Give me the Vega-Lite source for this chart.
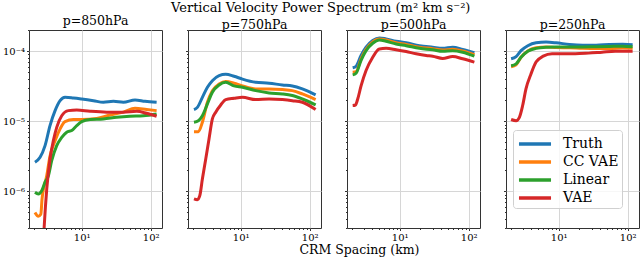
{
  "$schema": "https://vega.github.io/schema/vega-lite/v6.json",
  "padding": {"left": 1, "top": 2, "right": 1, "bottom": 0},
  "background": "white",
  "bounds": "flush",
  "title": {"text": "Vertical Velocity Power Spectrum (m² km s⁻²)", "font": "DejaVu Serif", "fontSize": 13, "fontWeight": "normal", "anchor": "middle", "offset": -1, "color": "black"},
  "spacing": 26,
  "resolve": {"scale": {"color": "independent"}, "legend": {"color": "independent"}},
  "datasets": {
    "d": [
      {"p": 850, "m": "Truth", "x": 2.1, "y": 2.6e-6}, {"p": 850, "m": "Truth", "x": 2.49, "y": 3.06e-6}, {"p": 850, "m": "Truth", "x": 2.94, "y": 4.5e-6}, {"p": 850, "m": "Truth", "x": 3.47, "y": 8.7e-6}, {"p": 850, "m": "Truth", "x": 4.11, "y": 1.42e-5}, {"p": 850, "m": "Truth", "x": 4.86, "y": 1.97e-5}, {"p": 850, "m": "Truth", "x": 5.73, "y": 2.2e-5}, {"p": 850, "m": "Truth", "x": 7.57, "y": 2.15e-5}, {"p": 850, "m": "Truth", "x": 10, "y": 2.08e-5}, {"p": 850, "m": "Truth", "x": 14.8, "y": 1.97e-5}, {"p": 850, "m": "Truth", "x": 20.6, "y": 1.87e-5}, {"p": 850, "m": "Truth", "x": 28.8, "y": 1.93e-5}, {"p": 850, "m": "Truth", "x": 40.2, "y": 1.87e-5}, {"p": 850, "m": "Truth", "x": 59.3, "y": 2.02e-5}, {"p": 850, "m": "Truth", "x": 82.8, "y": 1.93e-5}, {"p": 850, "m": "Truth", "x": 122, "y": 1.87e-5},
      {"p": 850, "m": "CC VAE", "x": 2.1, "y": 5.0e-7}, {"p": 850, "m": "CC VAE", "x": 2.35, "y": 4.4e-7}, {"p": 850, "m": "CC VAE", "x": 2.55, "y": 4.7e-7}, {"p": 850, "m": "CC VAE", "x": 2.66, "y": 7.8e-7}, {"p": 850, "m": "CC VAE", "x": 3.11, "y": 1.67e-6}, {"p": 850, "m": "CC VAE", "x": 3.47, "y": 3.2e-6}, {"p": 850, "m": "CC VAE", "x": 4.11, "y": 5.3e-6}, {"p": 850, "m": "CC VAE", "x": 4.86, "y": 7.8e-6}, {"p": 850, "m": "CC VAE", "x": 5.73, "y": 9.9e-6}, {"p": 850, "m": "CC VAE", "x": 7.57, "y": 1.06e-5}, {"p": 850, "m": "CC VAE", "x": 10, "y": 1.06e-5}, {"p": 850, "m": "CC VAE", "x": 16.5, "y": 1.1e-5}, {"p": 850, "m": "CC VAE", "x": 25.8, "y": 1.23e-5}, {"p": 850, "m": "CC VAE", "x": 40.2, "y": 1.35e-5}, {"p": 850, "m": "CC VAE", "x": 59.3, "y": 1.53e-5}, {"p": 850, "m": "CC VAE", "x": 87.5, "y": 1.47e-5}, {"p": 850, "m": "CC VAE", "x": 122, "y": 1.42e-5},
      {"p": 850, "m": "Linear", "x": 2.1, "y": 9.7e-7}, {"p": 850, "m": "Linear", "x": 2.35, "y": 9.2e-7}, {"p": 850, "m": "Linear", "x": 2.63, "y": 1.02e-6}, {"p": 850, "m": "Linear", "x": 2.94, "y": 1.35e-6}, {"p": 850, "m": "Linear", "x": 3.29, "y": 1.67e-6}, {"p": 850, "m": "Linear", "x": 3.67, "y": 2.74e-6}, {"p": 850, "m": "Linear", "x": 4.34, "y": 4.5e-6}, {"p": 850, "m": "Linear", "x": 5.13, "y": 5.9e-6}, {"p": 850, "m": "Linear", "x": 6.06, "y": 7.0e-6}, {"p": 850, "m": "Linear", "x": 7.16, "y": 7.4e-6}, {"p": 850, "m": "Linear", "x": 8.47, "y": 8.7e-6}, {"p": 850, "m": "Linear", "x": 10, "y": 9.9e-6}, {"p": 850, "m": "Linear", "x": 13.2, "y": 1.06e-5}, {"p": 850, "m": "Linear", "x": 20.6, "y": 1.08e-5}, {"p": 850, "m": "Linear", "x": 32.1, "y": 1.14e-5}, {"p": 850, "m": "Linear", "x": 50.1, "y": 1.18e-5}, {"p": 850, "m": "Linear", "x": 78.3, "y": 1.2e-5}, {"p": 850, "m": "Linear", "x": 122, "y": 1.27e-5},
      {"p": 850, "m": "VAE", "x": 2.75, "y": 1.5e-7}, {"p": 850, "m": "VAE", "x": 2.86, "y": 3.2e-7}, {"p": 850, "m": "VAE", "x": 3.11, "y": 1.08e-6}, {"p": 850, "m": "VAE", "x": 3.47, "y": 2.9e-6}, {"p": 850, "m": "VAE", "x": 3.88, "y": 5.3e-6}, {"p": 850, "m": "VAE", "x": 4.34, "y": 8.2e-6}, {"p": 850, "m": "VAE", "x": 5.13, "y": 1.2e-5}, {"p": 850, "m": "VAE", "x": 6.41, "y": 1.42e-5}, {"p": 850, "m": "VAE", "x": 8.47, "y": 1.45e-5}, {"p": 850, "m": "VAE", "x": 13.2, "y": 1.39e-5}, {"p": 850, "m": "VAE", "x": 23, "y": 1.35e-5}, {"p": 850, "m": "VAE", "x": 40, "y": 1.35e-5}, {"p": 850, "m": "VAE", "x": 62.7, "y": 1.39e-5}, {"p": 850, "m": "VAE", "x": 87.5, "y": 1.3e-5}, {"p": 850, "m": "VAE", "x": 122, "y": 1.18e-5},

      {"p": 750, "m": "Truth", "x": 2.1, "y": 1.47e-5}, {"p": 750, "m": "Truth", "x": 2.35, "y": 1.58e-5}, {"p": 750, "m": "Truth", "x": 2.78, "y": 2.2e-5}, {"p": 750, "m": "Truth", "x": 3.29, "y": 3.06e-5}, {"p": 750, "m": "Truth", "x": 3.88, "y": 3.8e-5}, {"p": 750, "m": "Truth", "x": 4.86, "y": 4.5e-5}, {"p": 750, "m": "Truth", "x": 6.06, "y": 4.7e-5}, {"p": 750, "m": "Truth", "x": 8.0, "y": 4.4e-5}, {"p": 750, "m": "Truth", "x": 10.6, "y": 4.0e-5}, {"p": 750, "m": "Truth", "x": 16.5, "y": 3.6e-5}, {"p": 750, "m": "Truth", "x": 25.8, "y": 3.5e-5}, {"p": 750, "m": "Truth", "x": 40.2, "y": 3.3e-5}, {"p": 750, "m": "Truth", "x": 56.1, "y": 3.2e-5}, {"p": 750, "m": "Truth", "x": 78.3, "y": 2.9e-5}, {"p": 750, "m": "Truth", "x": 122, "y": 2.38e-5},
      {"p": 750, "m": "CC VAE", "x": 2.1, "y": 7.1e-6}, {"p": 750, "m": "CC VAE", "x": 2.43, "y": 7.1e-6}, {"p": 750, "m": "CC VAE", "x": 2.78, "y": 9.7e-6}, {"p": 750, "m": "CC VAE", "x": 3.29, "y": 1.87e-5}, {"p": 750, "m": "CC VAE", "x": 3.88, "y": 2.74e-5}, {"p": 750, "m": "CC VAE", "x": 4.86, "y": 3.4e-5}, {"p": 750, "m": "CC VAE", "x": 6.06, "y": 3.7e-5}, {"p": 750, "m": "CC VAE", "x": 8.0, "y": 3.5e-5}, {"p": 750, "m": "CC VAE", "x": 10.6, "y": 3.2e-5}, {"p": 750, "m": "CC VAE", "x": 16.5, "y": 2.9e-5}, {"p": 750, "m": "CC VAE", "x": 25.8, "y": 2.9e-5}, {"p": 750, "m": "CC VAE", "x": 40.2, "y": 2.84e-5}, {"p": 750, "m": "CC VAE", "x": 56.1, "y": 2.74e-5}, {"p": 750, "m": "CC VAE", "x": 78.3, "y": 2.46e-5}, {"p": 750, "m": "CC VAE", "x": 122, "y": 2.04e-5},
      {"p": 750, "m": "Linear", "x": 2.1, "y": 9.7e-6}, {"p": 750, "m": "Linear", "x": 2.43, "y": 1.02e-5}, {"p": 750, "m": "Linear", "x": 2.78, "y": 1.2e-5}, {"p": 750, "m": "Linear", "x": 3.29, "y": 1.77e-5}, {"p": 750, "m": "Linear", "x": 3.88, "y": 2.6e-5}, {"p": 750, "m": "Linear", "x": 4.86, "y": 3.3e-5}, {"p": 750, "m": "Linear", "x": 6.06, "y": 3.6e-5}, {"p": 750, "m": "Linear", "x": 8.0, "y": 3.2e-5}, {"p": 750, "m": "Linear", "x": 10.6, "y": 3.06e-5}, {"p": 750, "m": "Linear", "x": 16.5, "y": 2.74e-5}, {"p": 750, "m": "Linear", "x": 25.8, "y": 2.54e-5}, {"p": 750, "m": "Linear", "x": 40.2, "y": 2.46e-5}, {"p": 750, "m": "Linear", "x": 56.1, "y": 2.33e-5}, {"p": 750, "m": "Linear", "x": 78.3, "y": 2.08e-5}, {"p": 750, "m": "Linear", "x": 122, "y": 1.71e-5},
      {"p": 750, "m": "VAE", "x": 2.1, "y": 7.8e-7}, {"p": 750, "m": "VAE", "x": 2.35, "y": 7.6e-7}, {"p": 750, "m": "VAE", "x": 2.55, "y": 8.7e-7}, {"p": 750, "m": "VAE", "x": 2.78, "y": 1.5e-6}, {"p": 750, "m": "VAE", "x": 3.11, "y": 2.9e-6}, {"p": 750, "m": "VAE", "x": 3.47, "y": 5.6e-6}, {"p": 750, "m": "VAE", "x": 3.88, "y": 1.08e-5}, {"p": 750, "m": "VAE", "x": 4.34, "y": 1.35e-5}, {"p": 750, "m": "VAE", "x": 5.13, "y": 1.71e-5}, {"p": 750, "m": "VAE", "x": 6.06, "y": 2.04e-5}, {"p": 750, "m": "VAE", "x": 8.0, "y": 2.13e-5}, {"p": 750, "m": "VAE", "x": 10.6, "y": 2.2e-5}, {"p": 750, "m": "VAE", "x": 16.5, "y": 2.04e-5}, {"p": 750, "m": "VAE", "x": 25.8, "y": 2.08e-5}, {"p": 750, "m": "VAE", "x": 40.2, "y": 2.04e-5}, {"p": 750, "m": "VAE", "x": 56.1, "y": 1.97e-5}, {"p": 750, "m": "VAE", "x": 78.3, "y": 1.87e-5}, {"p": 750, "m": "VAE", "x": 122, "y": 1.47e-5},

      {"p": 500, "m": "Truth", "x": 2.08, "y": 5.8e-5}, {"p": 500, "m": "Truth", "x": 2.33, "y": 6.1e-5}, {"p": 500, "m": "Truth", "x": 2.75, "y": 8.7e-5}, {"p": 500, "m": "Truth", "x": 3.25, "y": 1.14e-4}, {"p": 500, "m": "Truth", "x": 4.06, "y": 1.42e-4}, {"p": 500, "m": "Truth", "x": 5.07, "y": 1.55e-4}, {"p": 500, "m": "Truth", "x": 6.34, "y": 1.5e-4}, {"p": 500, "m": "Truth", "x": 8.85, "y": 1.39e-4}, {"p": 500, "m": "Truth", "x": 12.4, "y": 1.32e-4}, {"p": 500, "m": "Truth", "x": 19.3, "y": 1.2e-4}, {"p": 500, "m": "Truth", "x": 30.1, "y": 1.14e-4}, {"p": 500, "m": "Truth", "x": 42, "y": 1.1e-4}, {"p": 500, "m": "Truth", "x": 58.6, "y": 1.14e-4}, {"p": 500, "m": "Truth", "x": 81.8, "y": 1.06e-4}, {"p": 500, "m": "Truth", "x": 121, "y": 9.5e-5},
      {"p": 500, "m": "CC VAE", "x": 2.08, "y": 5.0e-5}, {"p": 500, "m": "CC VAE", "x": 2.33, "y": 5.1e-5}, {"p": 500, "m": "CC VAE", "x": 2.75, "y": 7.8e-5}, {"p": 500, "m": "CC VAE", "x": 3.25, "y": 1.07e-4}, {"p": 500, "m": "CC VAE", "x": 4.06, "y": 1.36e-4}, {"p": 500, "m": "CC VAE", "x": 5.07, "y": 1.5e-4}, {"p": 500, "m": "CC VAE", "x": 6.34, "y": 1.45e-4}, {"p": 500, "m": "CC VAE", "x": 8.85, "y": 1.32e-4}, {"p": 500, "m": "CC VAE", "x": 12.4, "y": 1.25e-4}, {"p": 500, "m": "CC VAE", "x": 19.3, "y": 1.14e-4}, {"p": 500, "m": "CC VAE", "x": 30.1, "y": 1.09e-4}, {"p": 500, "m": "CC VAE", "x": 42, "y": 1.04e-4}, {"p": 500, "m": "CC VAE", "x": 58.6, "y": 1.07e-4}, {"p": 500, "m": "CC VAE", "x": 81.8, "y": 1.01e-4}, {"p": 500, "m": "CC VAE", "x": 121, "y": 8.9e-5},
      {"p": 500, "m": "Linear", "x": 2.08, "y": 4.6e-5}, {"p": 500, "m": "Linear", "x": 2.33, "y": 4.85e-5}, {"p": 500, "m": "Linear", "x": 2.75, "y": 7.4e-5}, {"p": 500, "m": "Linear", "x": 3.25, "y": 1.02e-4}, {"p": 500, "m": "Linear", "x": 4.06, "y": 1.3e-4}, {"p": 500, "m": "Linear", "x": 5.07, "y": 1.45e-4}, {"p": 500, "m": "Linear", "x": 6.34, "y": 1.39e-4}, {"p": 500, "m": "Linear", "x": 8.85, "y": 1.27e-4}, {"p": 500, "m": "Linear", "x": 12.4, "y": 1.2e-4}, {"p": 500, "m": "Linear", "x": 19.3, "y": 1.1e-4}, {"p": 500, "m": "Linear", "x": 30.1, "y": 1.05e-4}, {"p": 500, "m": "Linear", "x": 42, "y": 1.0e-4}, {"p": 500, "m": "Linear", "x": 58.6, "y": 1.02e-4}, {"p": 500, "m": "Linear", "x": 81.8, "y": 9.7e-5}, {"p": 500, "m": "Linear", "x": 121, "y": 8.5e-5},
      {"p": 500, "m": "VAE", "x": 2.08, "y": 1.68e-5}, {"p": 500, "m": "VAE", "x": 2.28, "y": 1.71e-5}, {"p": 500, "m": "VAE", "x": 2.46, "y": 2.08e-5}, {"p": 500, "m": "VAE", "x": 2.75, "y": 3.2e-5}, {"p": 500, "m": "VAE", "x": 3.25, "y": 5.3e-5}, {"p": 500, "m": "VAE", "x": 4.06, "y": 8.2e-5}, {"p": 500, "m": "VAE", "x": 5.07, "y": 1.08e-4}, {"p": 500, "m": "VAE", "x": 6.34, "y": 1.1e-4}, {"p": 500, "m": "VAE", "x": 8.85, "y": 1.05e-4}, {"p": 500, "m": "VAE", "x": 12.4, "y": 9.9e-5}, {"p": 500, "m": "VAE", "x": 17.3, "y": 9.2e-5}, {"p": 500, "m": "VAE", "x": 24.2, "y": 8.7e-5}, {"p": 500, "m": "VAE", "x": 30.1, "y": 8.5e-5}, {"p": 500, "m": "VAE", "x": 42, "y": 7.9e-5}, {"p": 500, "m": "VAE", "x": 58.6, "y": 8.4e-5}, {"p": 500, "m": "VAE", "x": 81.8, "y": 7.8e-5}, {"p": 500, "m": "VAE", "x": 121, "y": 7.0e-5},

      {"p": 250, "m": "Truth", "x": 2.04, "y": 7.8e-5}, {"p": 250, "m": "Truth", "x": 2.41, "y": 8.4e-5}, {"p": 250, "m": "Truth", "x": 2.84, "y": 1.02e-4}, {"p": 250, "m": "Truth", "x": 3.56, "y": 1.2e-4}, {"p": 250, "m": "Truth", "x": 4.69, "y": 1.32e-4}, {"p": 250, "m": "Truth", "x": 6.55, "y": 1.35e-4}, {"p": 250, "m": "Truth", "x": 9.15, "y": 1.32e-4}, {"p": 250, "m": "Truth", "x": 14.3, "y": 1.25e-4}, {"p": 250, "m": "Truth", "x": 22.3, "y": 1.22e-4}, {"p": 250, "m": "Truth", "x": 34.8, "y": 1.22e-4}, {"p": 250, "m": "Truth", "x": 54.2, "y": 1.25e-4}, {"p": 250, "m": "Truth", "x": 84.7, "y": 1.26e-4}, {"p": 250, "m": "Truth", "x": 118, "y": 1.24e-4},
      {"p": 250, "m": "CC VAE", "x": 2.04, "y": 6.0e-5}, {"p": 250, "m": "CC VAE", "x": 2.41, "y": 6.4e-5}, {"p": 250, "m": "CC VAE", "x": 2.84, "y": 8.2e-5}, {"p": 250, "m": "CC VAE", "x": 3.56, "y": 1.01e-4}, {"p": 250, "m": "CC VAE", "x": 4.69, "y": 1.12e-4}, {"p": 250, "m": "CC VAE", "x": 6.55, "y": 1.15e-4}, {"p": 250, "m": "CC VAE", "x": 9.15, "y": 1.13e-4}, {"p": 250, "m": "CC VAE", "x": 14.3, "y": 1.12e-4}, {"p": 250, "m": "CC VAE", "x": 22.3, "y": 1.1e-4}, {"p": 250, "m": "CC VAE", "x": 34.8, "y": 1.09e-4}, {"p": 250, "m": "CC VAE", "x": 54.2, "y": 1.09e-4}, {"p": 250, "m": "CC VAE", "x": 84.7, "y": 1.11e-4}, {"p": 250, "m": "CC VAE", "x": 118, "y": 1.1e-4},
      {"p": 250, "m": "Linear", "x": 2.04, "y": 6.2e-5}, {"p": 250, "m": "Linear", "x": 2.41, "y": 6.6e-5}, {"p": 250, "m": "Linear", "x": 2.84, "y": 8.2e-5}, {"p": 250, "m": "Linear", "x": 3.56, "y": 1.0e-4}, {"p": 250, "m": "Linear", "x": 4.69, "y": 1.1e-4}, {"p": 250, "m": "Linear", "x": 6.55, "y": 1.14e-4}, {"p": 250, "m": "Linear", "x": 9.15, "y": 1.15e-4}, {"p": 250, "m": "Linear", "x": 14.3, "y": 1.15e-4}, {"p": 250, "m": "Linear", "x": 22.3, "y": 1.15e-4}, {"p": 250, "m": "Linear", "x": 34.8, "y": 1.16e-4}, {"p": 250, "m": "Linear", "x": 54.2, "y": 1.17e-4}, {"p": 250, "m": "Linear", "x": 84.7, "y": 1.18e-4}, {"p": 250, "m": "Linear", "x": 118, "y": 1.16e-4},
      {"p": 250, "m": "VAE", "x": 2.04, "y": 1.06e-5}, {"p": 250, "m": "VAE", "x": 2.41, "y": 1.02e-5}, {"p": 250, "m": "VAE", "x": 2.69, "y": 1.14e-5}, {"p": 250, "m": "VAE", "x": 3.0, "y": 1.68e-5}, {"p": 250, "m": "VAE", "x": 3.35, "y": 2.9e-5}, {"p": 250, "m": "VAE", "x": 3.96, "y": 4.74e-5}, {"p": 250, "m": "VAE", "x": 4.69, "y": 7.0e-5}, {"p": 250, "m": "VAE", "x": 5.96, "y": 8.5e-5}, {"p": 250, "m": "VAE", "x": 8.0, "y": 9.2e-5}, {"p": 250, "m": "VAE", "x": 11.1, "y": 9.2e-5}, {"p": 250, "m": "VAE", "x": 17.4, "y": 9.2e-5}, {"p": 250, "m": "VAE", "x": 27.1, "y": 9.4e-5}, {"p": 250, "m": "VAE", "x": 42.4, "y": 9.7e-5}, {"p": 250, "m": "VAE", "x": 66, "y": 1.0e-4}, {"p": 250, "m": "VAE", "x": 118, "y": 1.0e-4}
    ]
  },
  "hconcat": [
    {
      "title": "p=850hPa",
      "width": 133, "height": 198,
      "data": {"name": "d"},
      "transform": [{"filter": "datum.p == 850"}],
      "mark": {"type": "line", "strokeWidth": 3, "clip": true, "interpolate": "monotone"},
      "encoding": {
        "x": {"field": "x", "type": "quantitative", "scale": {"type": "log", "domain": [1.72, 146], "nice": false},
          "axis": {"title": null, "values": [2,3,4,5,6,7,8,9,10,20,30,40,50,60,70,80,90,100], "labelOverlap": false, "labelFlush": false,
            "labelExpr": "abs(log(datum.value)/LN10 - round(log(datum.value)/LN10)) < 0.001 ? (round(log(datum.value)/LN10) == 1 ? '10¹' : '10²') : ''",
            "tickSize": {"condition": {"test": "abs(log(datum.value)/LN10 - round(log(datum.value)/LN10)) < 0.001", "value": 2.5}, "value": 1.5},
            "gridOpacity": {"condition": {"test": "abs(log(datum.value)/LN10 - round(log(datum.value)/LN10)) < 0.001", "value": 1}, "value": 0}}},
        "y": {"field": "y", "type": "quantitative", "scale": {"type": "log", "domain": [3.0e-7, 2.01e-4], "nice": false},
          "axis": {"title": null, "values": [3e-7,4e-7,5e-7,6e-7,7e-7,8e-7,9e-7,1e-6,2e-6,3e-6,4e-6,5e-6,6e-6,7e-6,8e-6,9e-6,1e-5,2e-5,3e-5,4e-5,5e-5,6e-5,7e-5,8e-5,9e-5,1e-4,2e-4], "labelOverlap": false,
            "labelExpr": "abs(log(datum.value)/LN10 - round(log(datum.value)/LN10)) < 0.001 ? (round(log(datum.value)/LN10) == -4 ? '10⁻⁴' : round(log(datum.value)/LN10) == -5 ? '10⁻⁵' : '10⁻⁶') : ''",
            "tickSize": {"condition": {"test": "abs(log(datum.value)/LN10 - round(log(datum.value)/LN10)) < 0.001", "value": 2.5}, "value": 1.5},
            "gridOpacity": {"condition": {"test": "abs(log(datum.value)/LN10 - round(log(datum.value)/LN10)) < 0.001", "value": 1}, "value": 0}}},
        "color": {"field": "m", "type": "nominal", "scale": {"domain": ["Truth", "CC VAE", "Linear", "VAE"], "range": ["#1f77b4", "#ff7f0e", "#2ca02c", "#d62728"]}, "legend": null}
      }
    },
    {
      "title": "p=750hPa",
      "width": 133, "height": 198,
      "data": {"name": "d"},
      "transform": [{"filter": "datum.p == 750"}],
      "mark": {"type": "line", "strokeWidth": 3, "clip": true, "interpolate": "monotone"},
      "encoding": {
        "x": {"field": "x", "type": "quantitative", "scale": {"type": "log", "domain": [1.72, 146], "nice": false},
          "axis": {"title": "CRM Spacing (km)", "titleX": 171, "titleAlign": "center", "titleFontSize": 12.5, "titleFontWeight": "normal", "titlePadding": 1, "values": [2,3,4,5,6,7,8,9,10,20,30,40,50,60,70,80,90,100], "labelOverlap": false, "labelFlush": false,
            "labelExpr": "abs(log(datum.value)/LN10 - round(log(datum.value)/LN10)) < 0.001 ? (round(log(datum.value)/LN10) == 1 ? '10¹' : '10²') : ''",
            "tickSize": {"condition": {"test": "abs(log(datum.value)/LN10 - round(log(datum.value)/LN10)) < 0.001", "value": 2.5}, "value": 1.5},
            "gridOpacity": {"condition": {"test": "abs(log(datum.value)/LN10 - round(log(datum.value)/LN10)) < 0.001", "value": 1}, "value": 0}}},
        "y": {"field": "y", "type": "quantitative", "scale": {"type": "log", "domain": [3.0e-7, 2.01e-4], "nice": false},
          "axis": {"title": null, "labels": false, "values": [3e-7,4e-7,5e-7,6e-7,7e-7,8e-7,9e-7,1e-6,2e-6,3e-6,4e-6,5e-6,6e-6,7e-6,8e-6,9e-6,1e-5,2e-5,3e-5,4e-5,5e-5,6e-5,7e-5,8e-5,9e-5,1e-4,2e-4],
            "tickSize": {"condition": {"test": "abs(log(datum.value)/LN10 - round(log(datum.value)/LN10)) < 0.001", "value": 2.5}, "value": 1.5},
            "gridOpacity": {"condition": {"test": "abs(log(datum.value)/LN10 - round(log(datum.value)/LN10)) < 0.001", "value": 1}, "value": 0}}},
        "color": {"field": "m", "type": "nominal", "scale": {"domain": ["Truth", "CC VAE", "Linear", "VAE"], "range": ["#1f77b4", "#ff7f0e", "#2ca02c", "#d62728"]}, "legend": null}
      }
    },
    {
      "title": "p=500hPa",
      "width": 133, "height": 198,
      "data": {"name": "d"},
      "transform": [{"filter": "datum.p == 500"}],
      "mark": {"type": "line", "strokeWidth": 3, "clip": true, "interpolate": "monotone"},
      "encoding": {
        "x": {"field": "x", "type": "quantitative", "scale": {"type": "log", "domain": [1.72, 146], "nice": false},
          "axis": {"title": null, "values": [2,3,4,5,6,7,8,9,10,20,30,40,50,60,70,80,90,100], "labelOverlap": false, "labelFlush": false,
            "labelExpr": "abs(log(datum.value)/LN10 - round(log(datum.value)/LN10)) < 0.001 ? (round(log(datum.value)/LN10) == 1 ? '10¹' : '10²') : ''",
            "tickSize": {"condition": {"test": "abs(log(datum.value)/LN10 - round(log(datum.value)/LN10)) < 0.001", "value": 2.5}, "value": 1.5},
            "gridOpacity": {"condition": {"test": "abs(log(datum.value)/LN10 - round(log(datum.value)/LN10)) < 0.001", "value": 1}, "value": 0}}},
        "y": {"field": "y", "type": "quantitative", "scale": {"type": "log", "domain": [3.0e-7, 2.01e-4], "nice": false},
          "axis": {"title": null, "labels": false, "values": [3e-7,4e-7,5e-7,6e-7,7e-7,8e-7,9e-7,1e-6,2e-6,3e-6,4e-6,5e-6,6e-6,7e-6,8e-6,9e-6,1e-5,2e-5,3e-5,4e-5,5e-5,6e-5,7e-5,8e-5,9e-5,1e-4,2e-4],
            "tickSize": {"condition": {"test": "abs(log(datum.value)/LN10 - round(log(datum.value)/LN10)) < 0.001", "value": 2.5}, "value": 1.5},
            "gridOpacity": {"condition": {"test": "abs(log(datum.value)/LN10 - round(log(datum.value)/LN10)) < 0.001", "value": 1}, "value": 0}}},
        "color": {"field": "m", "type": "nominal", "scale": {"domain": ["Truth", "CC VAE", "Linear", "VAE"], "range": ["#1f77b4", "#ff7f0e", "#2ca02c", "#d62728"]}, "legend": null}
      }
    },
    {
      "title": "p=250hPa",
      "width": 133, "height": 198,
      "data": {"name": "d"},
      "transform": [{"filter": "datum.p == 250"}],
      "mark": {"type": "line", "strokeWidth": 3, "clip": true, "interpolate": "monotone"},
      "encoding": {
        "x": {"field": "x", "type": "quantitative", "scale": {"type": "log", "domain": [1.72, 146], "nice": false},
          "axis": {"title": null, "values": [2,3,4,5,6,7,8,9,10,20,30,40,50,60,70,80,90,100], "labelOverlap": false, "labelFlush": false,
            "labelExpr": "abs(log(datum.value)/LN10 - round(log(datum.value)/LN10)) < 0.001 ? (round(log(datum.value)/LN10) == 1 ? '10¹' : '10²') : ''",
            "tickSize": {"condition": {"test": "abs(log(datum.value)/LN10 - round(log(datum.value)/LN10)) < 0.001", "value": 2.5}, "value": 1.5},
            "gridOpacity": {"condition": {"test": "abs(log(datum.value)/LN10 - round(log(datum.value)/LN10)) < 0.001", "value": 1}, "value": 0}}},
        "y": {"field": "y", "type": "quantitative", "scale": {"type": "log", "domain": [3.0e-7, 2.01e-4], "nice": false},
          "axis": {"title": null, "labels": false, "values": [3e-7,4e-7,5e-7,6e-7,7e-7,8e-7,9e-7,1e-6,2e-6,3e-6,4e-6,5e-6,6e-6,7e-6,8e-6,9e-6,1e-5,2e-5,3e-5,4e-5,5e-5,6e-5,7e-5,8e-5,9e-5,1e-4,2e-4],
            "tickSize": {"condition": {"test": "abs(log(datum.value)/LN10 - round(log(datum.value)/LN10)) < 0.001", "value": 2.5}, "value": 1.5},
            "gridOpacity": {"condition": {"test": "abs(log(datum.value)/LN10 - round(log(datum.value)/LN10)) < 0.001", "value": 1}, "value": 0}}},
        "color": {"field": "m", "type": "nominal", "scale": {"domain": ["Truth", "CC VAE", "Linear", "VAE"], "range": ["#1f77b4", "#ff7f0e", "#2ca02c", "#d62728"]},
          "legend": {"title": null, "orient": "none", "legendX": 7, "legendY": 100, "symbolType": "M-1.78,0H1.78", "symbolStrokeWidth": 3.5, "symbolSize": 324, "symbolOffset": 8, "labelFont": "DejaVu Serif", "labelFontSize": 14, "labelColor": "black", "fillColor": "rgba(255,255,255,0.8)", "strokeColor": "#d0d0d0", "cornerRadius": 3, "padding": 3, "rowPadding": -1, "labelOffset": 17}}
      }
    }
  ],
  "config": {
    "font": "DejaVu Serif",
    "view": {"stroke": "#333333", "strokeWidth": 1},
    "title": {"font": "DejaVu Serif", "fontSize": 12.5, "fontWeight": "normal", "color": "black", "offset": -2},
    "axis": {"domain": false, "grid": true, "gridColor": "#d6d6d6", "gridWidth": 1, "tickColor": "#333333", "labelFont": "DejaVu Serif", "labelFontSize": 10, "labelColor": "black", "labelPadding": 2, "titleFont": "DejaVu Serif", "titleColor": "black"}
  }
}
